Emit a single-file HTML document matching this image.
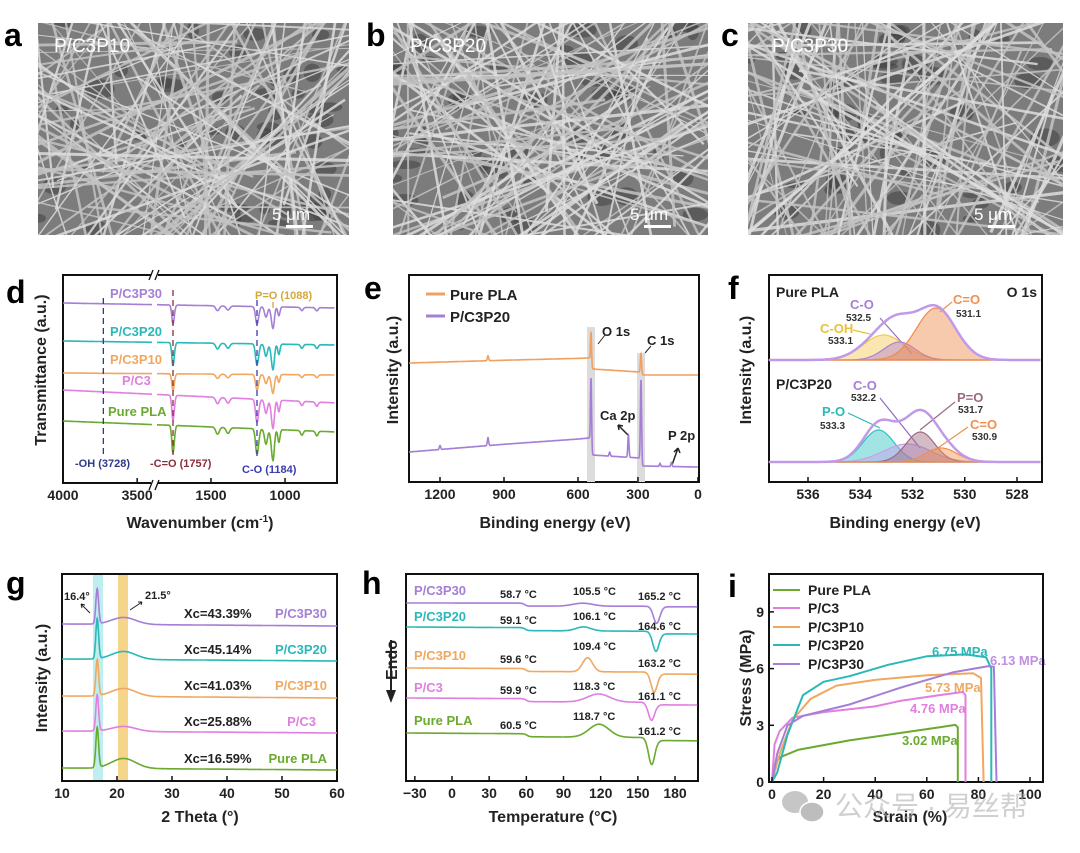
<!DOCTYPE html>
<html><head><meta charset="utf-8">
<style>
html,body{margin:0;padding:0;background:#fff;}
svg{display:block;font-family:"Liberation Sans","Noto Sans CJK SC",sans-serif;}
.pl{font-size:32px;font-weight:bold;fill:#000;}
.tk{font-size:14px;font-weight:bold;fill:#222;}
.tt{font-size:16px;font-weight:bold;fill:#222;}
.lb{font-size:13px;font-weight:bold;}
.sm{font-size:10px;font-weight:bold;fill:#333;}
</style></head>
<body>
<svg id="fig" width="1080" height="853" viewBox="0 0 1080 853" xmlns="http://www.w3.org/2000/svg">
<defs>
<clipPath id="cpa"><rect x="38" y="23" width="311" height="212"/></clipPath>
<clipPath id="cpb"><rect x="393" y="23" width="315" height="212"/></clipPath>
<clipPath id="cpc"><rect x="748" y="23" width="315" height="212"/></clipPath>
</defs>
<g id="sem-a" clip-path="url(#cpa)"><rect x="38" y="23" width="311" height="212" fill="#7c7c7c"/></g>
<g id="sem-b" clip-path="url(#cpb)"><rect x="393" y="23" width="315" height="212" fill="#7c7c7c"/></g>
<g id="sem-c" clip-path="url(#cpc)"><rect x="748" y="23" width="315" height="212" fill="#7c7c7c"/></g>
<text class="pl" x="4" y="46">a</text>
<text class="pl" x="366" y="46">b</text>
<text class="pl" x="721" y="46">c</text>
<text x="54" y="52" font-size="19" fill="#fff">P/C3P10</text>
<text x="410" y="52" font-size="19" fill="#fff">P/C3P20</text>
<text x="772" y="52" font-size="19" fill="#fff">P/C3P30</text>
<g fill="#fff" font-size="17">
<text x="272" y="220">5 μm</text><rect x="286" y="225" width="27" height="3"/>
<text x="630" y="220">5 μm</text><rect x="644" y="225" width="27" height="3"/>
<text x="974" y="220">5 μm</text><rect x="988" y="225" width="27" height="3"/>
</g>

<text class="pl" x="6" y="303">d</text>
<text class="pl" x="364" y="299">e</text>
<text class="pl" x="728" y="299">f</text>
<text class="pl" x="6" y="594">g</text>
<text class="pl" x="362" y="594">h</text>
<text class="pl" x="728" y="597">i</text>

<text class="tt" transform="translate(46,370) rotate(-90)" text-anchor="middle">Transmittance (a.u.)</text>
<text class="tt" x="200" y="528" text-anchor="middle">Wavenumber (cm<tspan dy="-6" font-size="10">-1</tspan><tspan dy="6">)</tspan></text>
<text class="tt" transform="translate(398,370) rotate(-90)" text-anchor="middle">Intensity (a.u.)</text>
<text class="tt" x="555" y="528" text-anchor="middle">Binding energy (eV)</text>
<text class="tt" transform="translate(751,370) rotate(-90)" text-anchor="middle">Intensity (a.u.)</text>
<text class="tt" x="905" y="528" text-anchor="middle">Binding energy (eV)</text>
<text class="tt" transform="translate(47,678) rotate(-90)" text-anchor="middle">Intensity (a.u.)</text>
<text class="tt" x="200" y="822" text-anchor="middle">2 Theta (°)</text>
<text class="tt" x="553" y="822" text-anchor="middle">Temperature (°C)</text>
<text class="tt" transform="translate(751,678) rotate(-90)" text-anchor="middle">Stress (MPa)</text>
<text class="tt" x="910" y="822" text-anchor="middle">Strain (%)</text>

<g class="lb">
<text x="110" y="298" fill="#a57fd6">P/C3P30</text>
<text x="110" y="336" fill="#2ab8b8">P/C3P20</text>
<text x="110" y="364" fill="#f0a860">P/C3P10</text>
<text x="122" y="385" fill="#e07fe0">P/C3</text>
<text x="108" y="416" fill="#6aaa2f">Pure PLA</text>
<text x="255" y="299" fill="#d4a93a" font-size="11">P=O (1088)</text>
<text x="75" y="467" fill="#2e3a8a" font-size="11">-OH (3728)</text>
<text x="150" y="467" fill="#8a2e3a" font-size="11">-C=O (1757)</text>
<text x="242" y="473" fill="#3a3ab0" font-size="11">C-O (1184)</text>
</g>
<g>
<line x1="426" y1="294" x2="445" y2="294" stroke="#f0a060" stroke-width="3"/>
<text x="450" y="300" font-size="15" font-weight="bold" fill="#222">Pure PLA</text>
<line x1="426" y1="316" x2="445" y2="316" stroke="#a57fd6" stroke-width="3"/>
<text x="450" y="322" font-size="15" font-weight="bold" fill="#222">P/C3P20</text>
</g>
<g class="lb" fill="#222">
<text x="602" y="336">O 1s</text>
<text x="647" y="345">C 1s</text>
<text x="600" y="420">Ca 2p</text>
<text x="668" y="440">P 2p</text>
<line x1="598" y1="344" x2="605" y2="335" stroke="#222"/>
<line x1="645" y1="353" x2="651" y2="346" stroke="#222"/>
<path d="M629,436 L618,425 M618,425 l1,5 M618,425 l5,1" stroke="#222" fill="none" stroke-width="1.5"/>
<path d="M672,465 L678,448 M678,448 l-4,4 M678,448 l2,5" stroke="#222" fill="none" stroke-width="1.5"/>
</g>
<g class="lb">
<text x="776" y="297" fill="#222" font-size="14">Pure PLA</text>
<text x="1037" y="297" fill="#222" font-size="14" text-anchor="end">O 1s</text>
<text x="850" y="309" fill="#a57fd6">C-O</text><text class="sm" x="846" y="321">532.5</text>
<text x="820" y="333" fill="#e8c040">C-OH</text><text class="sm" x="828" y="344">533.1</text>
<text x="953" y="304" fill="#f09050">C=O</text><text class="sm" x="956" y="317">531.1</text>
<text x="776" y="389" fill="#222" font-size="14">P/C3P20</text>
<text x="853" y="390" fill="#a57fd6">C-O</text><text class="sm" x="851" y="401">532.2</text>
<text x="822" y="416" fill="#2ab8b8">P-O</text><text class="sm" x="820" y="429">533.3</text>
<text x="957" y="402" fill="#9c6a80">P=O</text><text class="sm" x="958" y="413">531.7</text>
<text x="970" y="429" fill="#f09050">C=O</text><text class="sm" x="972" y="440">530.9</text>
</g>
<g stroke-width="1.2" fill="none">
<line x1="880" y1="318" x2="912" y2="354" stroke="#9070c0"/>
<line x1="853" y1="330" x2="870" y2="334" stroke="#e8c040"/>
<line x1="940" y1="312" x2="952" y2="302" stroke="#f09050"/>
<line x1="880" y1="398" x2="920" y2="448" stroke="#9070c0"/>
<line x1="848" y1="413" x2="880" y2="428" stroke="#2ab8b8"/>
<line x1="920" y1="430" x2="955" y2="402" stroke="#9c6a80"/>
<line x1="935" y1="450" x2="968" y2="427" stroke="#f09050"/>
</g>
<g>
<rect x="93" y="574" width="10" height="207" fill="#bfeef0"/>
<rect x="118" y="574" width="10" height="207" fill="#f5d58a"/>
</g>
<g class="lb">
<text x="64" y="600" fill="#222" font-size="11">16.4°</text>
<text x="145" y="599" fill="#222" font-size="11">21.5°</text>
<path d="M90,613 L81,604 M81,604 l1,4 M81,604 l4,1" stroke="#222" fill="none"/>
<path d="M130,610 L142,602 M142,602 l-4,0 M142,602 l-1,3" stroke="#222" fill="none"/>
<text x="184" y="618" fill="#222">Xc=43.39%</text>
<text x="184" y="654" fill="#222">Xc=45.14%</text>
<text x="184" y="690" fill="#222">Xc=41.03%</text>
<text x="184" y="726" fill="#222">Xc=25.88%</text>
<text x="184" y="763" fill="#222">Xc=16.59%</text>
<text x="327" y="618" fill="#a57fd6" text-anchor="end">P/C3P30</text>
<text x="327" y="654" fill="#2ab8b8" text-anchor="end">P/C3P20</text>
<text x="327" y="690" fill="#f0a860" text-anchor="end">P/C3P10</text>
<text x="316" y="726" fill="#e07fe0" text-anchor="end">P/C3</text>
<text x="327" y="763" fill="#6aaa2f" text-anchor="end">Pure PLA</text>
</g>
<g class="lb">
<text x="414" y="595" fill="#a57fd6">P/C3P30</text>
<text x="414" y="621" fill="#2ab8b8">P/C3P20</text>
<text x="414" y="660" fill="#f0a860">P/C3P10</text>
<text x="414" y="692" fill="#e07fe0">P/C3</text>
<text x="414" y="725" fill="#6aaa2f">Pure PLA</text>
</g>
<g font-size="11" font-weight="bold" fill="#222">
<text x="500" y="598">58.7 °C</text><text x="573" y="595">105.5 °C</text><text x="638" y="600">165.2 °C</text>
<text x="500" y="624">59.1 °C</text><text x="573" y="620">106.1 °C</text><text x="638" y="630">164.6 °C</text>
<text x="500" y="663">59.6 °C</text><text x="573" y="650">109.4 °C</text><text x="638" y="667">163.2 °C</text>
<text x="500" y="694">59.9 °C</text><text x="573" y="690">118.3 °C</text><text x="638" y="700">161.1 °C</text>
<text x="500" y="729">60.5 °C</text><text x="573" y="720">118.7 °C</text><text x="638" y="735">161.2 °C</text>
</g>
<g>
<text class="tt" transform="translate(397,660) rotate(-90)" text-anchor="middle">Endo</text>
<line x1="391" y1="640" x2="391" y2="692" stroke="#222" stroke-width="2"/>
<path d="M386,690 L396,690 L391,703 Z" fill="#222"/>
</g>
<g font-size="14" font-weight="bold" fill="#222">
<line x1="773" y1="590" x2="800" y2="590" stroke="#6aaa2f" stroke-width="2"/><text x="808" y="595">Pure PLA</text>
<line x1="773" y1="608" x2="800" y2="608" stroke="#e07fe0" stroke-width="2"/><text x="808" y="613">P/C3</text>
<line x1="773" y1="627" x2="800" y2="627" stroke="#f0a860" stroke-width="2"/><text x="808" y="632">P/C3P10</text>
<line x1="773" y1="645" x2="800" y2="645" stroke="#2ab8b8" stroke-width="2"/><text x="808" y="650">P/C3P20</text>
<line x1="773" y1="664" x2="800" y2="664" stroke="#a57fd6" stroke-width="2"/><text x="808" y="669">P/C3P30</text>
</g>
<g class="lb">
<text x="932" y="656" fill="#2ab8b8">6.75 MPa</text>
<text x="990" y="665" fill="#c090e0">6.13 MPa</text>
<text x="925" y="692" fill="#f0a860">5.73 MPa</text>
<text x="910" y="713" fill="#e07fe0">4.76 MPa</text>
<text x="902" y="745" fill="#6aaa2f">3.02 MPa</text>
</g>
<g id="plots"></g>
<g opacity="0.55">
<ellipse cx="795" cy="802" rx="13" ry="11" fill="#999"/>
<ellipse cx="812" cy="812" rx="12" ry="10" fill="#888" stroke="#fff" stroke-width="1.5"/>
<text x="835" y="816" font-size="28" fill="#aaa">公众号 · 易丝帮</text>
</g>
</svg>
<script>
// d: FTIR
const ftirSeries = ['P/C3P30','P/C3P20','P/C3P10','P/C3','Pure PLA'];
const ftirBaseLeft = [303,341,373,390,421];
const ftirBaseRight = [308,345,375,403,432];
const ftirScale = [0.8,0.95,0.7,1.05,1.15];
const ftirPeakWn = [1757,1455,1383,1184,1130,1088,1045,870,755];
const ftirPeakDepth = [24,6,5,22,13,27,11,4,4];
const ftirPeakWidth = [9,12,12,10,9,10,8,10,10];
const ftirTicks = [4000,3500,1500,1000];
// e: XPS survey
const xpsSeries = ['Pure PLA','P/C3P20'];
const xpsBaseE = [1344,540,525,292,278,0];
const xpsBaseOrange = [363,358,369,372,375,375];
const xpsBasePurple = [452,438,455,458,466,467];
const xpsPeakEOrange = [975,531,285];
const xpsPeakHOrange = [5,32,20];
const xpsPeakEPurple = [1200,975,531,439,347,285,190,133];
const xpsPeakHPurple = [4,8,70,4,22,82,3,4];
const xpsTicks = [1200,900,600,300,0];
// f: O 1s
const o1sTopE = [533.1,532.5,531.1];
const o1sTopAmp = [25,18,52];
const o1sTopSig = [0.8,0.6,0.75];
const o1sBotE = [533.3,532.2,531.7,530.9];
const o1sBotAmp = [32,18,30,14];
const o1sBotSig = [0.6,0.9,0.55,0.6];
const o1sTicks = [536,534,532,530,528];
// g: XRD
const xrdBase = [624,659,696,731,768];
const xrdSharp = [35,40,36,36,40];
const xrdBroad = [7,8,8,5,10];
const xrdTicks = [10,20,30,40,50,60];
// h: DSC
const dscBaseL = [603,627,668,698,733];
const dscBaseR = [604,632,672,703,739];
const dscTg = [58.7,59.1,59.6,59.9,60.5];
const dscTcc = [105.5,106.1,109.4,118.3,118.7];
const dscCcAmp = [3,4,14,8,13];
const dscCcSig = [8,6,4,9,8];
const dscTm = [165.2,164.6,163.2,161.1,161.2];
const dscMAmp = [17,20,20,18,27];
const dscTicks = [-30,0,30,60,90,120,150,180];
// i: stress-strain
const ssStrainPLA = [0,1,3,10,30,50,65,71,72,72];
const ssStressPLA = [0,0.9,1.3,1.7,2.2,2.6,2.9,3.02,2.9,0];
const ssStrainC3 = [0,1,3,8,20,40,50,65,74,75,75];
const ssStressC3 = [0,2,2.7,3.4,3.7,4.0,4.3,4.6,4.76,4.6,0];
const ssStrainP10 = [0,3,8,15,25,40,60,78,81,82];
const ssStressP10 = [0,1.5,3.3,4.4,5.1,5.4,5.65,5.75,5.5,0];
const ssStrainP20 = [0,2,6,12,20,30,45,60,75,83,85,85];
const ssStressP20 = [0,0.5,2.5,4.6,5.3,5.6,6.2,6.65,6.75,6.6,6.0,0];
const ssStrainP30 = [0,2,6,12,30,50,70,84,86,87];
const ssStressP30 = [0,1.5,3.0,3.5,4.1,5.0,5.8,6.13,6.1,0];
const ssXTicks = [0,20,40,60,80,100];
const ssYTicks = [0,3,6,9];

const COLORS = ['#a57fd6','#2ab8b8','#f0a860','#e07fe0','#6aaa2f'];
const NS = 'http://www.w3.org/2000/svg';
const root = document.getElementById('plots');
function mk(tag, attrs, parent){const e=document.createElementNS(NS,tag);for(const k in attrs)e.setAttribute(k,attrs[k]);(parent||root).appendChild(e);return e;}
function interp(xs, ys, v){
  for(let i=0;i<xs.length-1;i++){const a=xs[i],b=xs[i+1];
    if((v-a)*(v-b)<=0){const t=(v-a)/(b-a||1);return ys[i]+t*(ys[i+1]-ys[i]);}}
  return v<Math.min(xs[0],xs[xs.length-1])? (xs[0]<xs[xs.length-1]?ys[0]:ys[ys.length-1]) : (xs[0]<xs[xs.length-1]?ys[ys.length-1]:ys[0]);
}
function g(x,m,s){return Math.exp(-(x-m)*(x-m)/(2*s*s));}
function pathOf(pts){return pts.map((p,i)=>(i?'L':'M')+p[0].toFixed(1)+','+p[1].toFixed(1)).join(' ');}
function box(x,y,w,h,name){const r=mk('rect',{x:x,y:y,width:w,height:h,fill:'none',stroke:'#111','stroke-width':2});
  
  }
function xtick(x,y,label,name){mk('line',{x1:x,y1:y,x2:x,y2:y-5,stroke:'#111','stroke-width':1.5});
  const t=mk('text',{x:x,y:y+17,'text-anchor':'middle','class':'tk'});t.textContent=label;
  
  }

// SEM textures (decorative)
let seed=7;function rnd(){seed=(seed*16807)%2147483647;return seed/2147483647;}
[['sem-a',38,311],['sem-b',393,315],['sem-c',748,315]].forEach(([id,x0,w])=>{
  const gp=document.getElementById(id);
  for(let i=0;i<45;i++){mk('ellipse',{cx:x0+rnd()*w,cy:23+rnd()*212,rx:5+rnd()*10,ry:3+rnd()*7,fill:'#404040',opacity:0.55},gp);}
  for(let i=0;i<120;i++){const a=rnd()*Math.PI;const cx=x0+rnd()*w,cy=23+rnd()*212,L=120+rnd()*220;
    mk('line',{x1:cx-Math.cos(a)*L,y1:cy-Math.sin(a)*L,x2:cx+Math.cos(a)*L,y2:cy+Math.sin(a)*L,stroke:rnd()<0.5?'#dedede':'#c4c4c4','stroke-width':1+rnd()*2.2,opacity:0.85},gp);}
});

// panel d
const dLeftWn=[4000,3400], dLeftX=[63,152];
const dRightWn=[1880,1757,1500,1184,1088,1000,600], dRightX=[157,173,211,257,273,285,337];
function dx(w){return w>=3400? interp(dLeftWn,dLeftX,w) : interp(dRightWn,dRightX,w);}
box(63,275,274,208,'d-plot-frame');
ftirSeries.forEach((name,si)=>{
  [[4000,3400],[1880,620]].forEach((seg,k)=>{
    const pts=[];
    for(let w=seg[0];w>=seg[1];w-=2){
      const frac=(dx(w)-63)/274;
      let y=ftirBaseLeft[si]+(ftirBaseRight[si]-ftirBaseLeft[si])*frac;
      ftirPeakWn.forEach((pw,j)=>{y+=ftirPeakDepth[j]*ftirScale[si]*g(w,pw,ftirPeakWidth[j]);});
      pts.push([dx(w),y]);}
    const p=mk('path',{d:pathOf(pts),fill:'none',stroke:COLORS[si],'stroke-width':1.6});
    
    
  });
});
[[3728,'#2e3a8a',298,455],[1757,'#8a2e3a',290,455],[1184,'#3a3ab0',300,460],[1088,'#d4a93a',302,310]].forEach((d,i)=>{
  const l=mk('line',{x1:dx(d[0]),y1:d[2],x2:dx(d[0]),y2:d[3],stroke:d[1],'stroke-width':1.3,'stroke-dasharray':'6,4'});
  
  
});
ftirTicks.forEach(t=>xtick(dx(t),483,String(t),'d-x-tick'));
mk('rect',{x:151,y:270,width:7,height:8,fill:'#fff'});mk('rect',{x:151,y:480,width:7,height:8,fill:'#fff'});
mk('path',{d:'M149,280 l4,-10 M155,280 l4,-10 M149,490 l4,-10 M155,490 l4,-10',stroke:'#111','stroke-width':1.3});

// panel e
const eE=[0,285,531,600,900,1200,1344], eX=[698,641,591,578,504,440,409];
function ex(E){return interp(eE,eX,E);}
box(409,275,290,207,'e-plot-frame');
mk('rect',{x:587,y:327,width:8,height:155,fill:'#dcdcdc'});
mk('rect',{x:637,y:353,width:8,height:129,fill:'#dcdcdc'});
[[xpsBaseOrange,xpsPeakEOrange,xpsPeakHOrange,'#f0a060'],[xpsBasePurple,xpsPeakEPurple,xpsPeakHPurple,'#a57fd6']].forEach((s,si)=>{
  const pts=[];
  for(let E=1344;E>=0;E-=0.5){let y=interp(xpsBaseE,s[0],E);s[1].forEach((pe,j)=>{y-=s[2][j]*g(E,pe,3);});pts.push([ex(E),y]);}
  const p=mk('path',{d:pathOf(pts),fill:'none',stroke:s[3],'stroke-width':1.6});
  
  
});
xpsTicks.forEach(t=>xtick(ex(t),482,String(t),'e-x-tick'));

// panel f
function fx(E){return 808+(536-E)*26.125;}
box(769,275,273,207,'f-plot-frame');
function o1s(base,Es,As,Ss,cols,tag){
  Es.forEach((E0,j)=>{const pts=[];for(let E=537.5;E>=527.1;E-=0.05)pts.push([fx(E),base-As[j]*g(E,E0,Ss[j])]);
    const a=mk('path',{d:pathOf(pts)+' Z',fill:cols[j],'fill-opacity':0.45,stroke:cols[j],'stroke-width':1.2});
    
    });
  const pts=[];for(let E=537.5;E>=527.1;E-=0.05){let y=base;Es.forEach((E0,j)=>{y-=As[j]*g(E,E0,Ss[j]);});pts.push([fx(E),y]);}
  const env=mk('path',{d:pathOf(pts),fill:'none',stroke:'#c09ae8','stroke-width':2.5});
  
  
}
o1s(360,o1sTopE,o1sTopAmp,o1sTopSig,['#f3c850','#b080d0','#f08a4a'],'o1s-pla');
o1s(462,o1sBotE,o1sBotAmp,o1sBotSig,['#30c0c0','#c8a0e8','#9c6a80','#f09050'],'o1s-p20');
o1sTicks.forEach(t=>xtick(fx(t),482,String(t),'f-x-tick'));

// panel g
function gx(t){return 62+(t-10)*5.5;}
box(62,574,275,207,'g-plot-frame');
xrdBase.forEach((b,si)=>{const pts=[];
  for(let t=10;t<=60;t+=0.05){let y=b+2*(t-10)/50-xrdSharp[si]*g(t,16.4,0.25)-xrdBroad[si]*g(t,21.2,2.2);pts.push([gx(t),y]);}
  const p=mk('path',{d:pathOf(pts),fill:'none',stroke:COLORS[si],'stroke-width':1.6});
  
  
});
xrdTicks.forEach(t=>xtick(gx(t),781,String(t),'g-x-tick'));

// panel h
function hx(T){return 452+T*1.239;}
box(406,574,292,207,'h-plot-frame');
dscBaseL.forEach((b,si)=>{const pts=[];
  for(let T=-37;T<=198;T+=0.25){
    const frac=(T+37)/235;
    let y=b+(dscBaseR[si]-b)*frac*0.3;
    y+=3*(1+Math.tanh((T-dscTg[si])/2))/2;
    y-=dscCcAmp[si]*g(T,dscTcc[si],dscCcSig[si]);
    y+=dscMAmp[si]*g(T,dscTm[si],2.6);
    y+=(dscBaseR[si]-b)*0.5*(1+Math.tanh((T-dscTm[si]-4)/1.5))/2;
    pts.push([hx(T),y]);}
  const p=mk('path',{d:pathOf(pts),fill:'none',stroke:COLORS[si],'stroke-width':1.6});
  
  
});
dscTicks.forEach(t=>xtick(hx(t),781,t<0?'\u2212'+(-t):String(t),'h-x-tick'));

// panel i
function ix(s){return 772+s*2.58;}
function iy(p){return 782-p*18.9;}
box(769,574,274,208,'i-plot-frame');
[[ssStrainPLA,ssStressPLA,4],[ssStrainC3,ssStressC3,3],[ssStrainP10,ssStressP10,2],[ssStrainP20,ssStressP20,1],[ssStrainP30,ssStressP30,0]].forEach(s=>{
  const pts=s[0].map((v,i)=>[ix(v),iy(s[1][i])]);
  const p=mk('path',{d:pathOf(pts),fill:'none',stroke:COLORS[s[2]],'stroke-width':2,'stroke-linejoin':'round'});
  
  
});
ssXTicks.forEach(t=>xtick(ix(t),782,String(t),'i-x-tick'));
ssYTicks.forEach(t=>{mk('line',{x1:769,y1:iy(t),x2:774,y2:iy(t),stroke:'#111','stroke-width':1.5});
  const tx=mk('text',{x:764,y:iy(t)+5,'text-anchor':'end','class':'tk'});tx.textContent=String(t);
  
  });
</script>
</body></html>
